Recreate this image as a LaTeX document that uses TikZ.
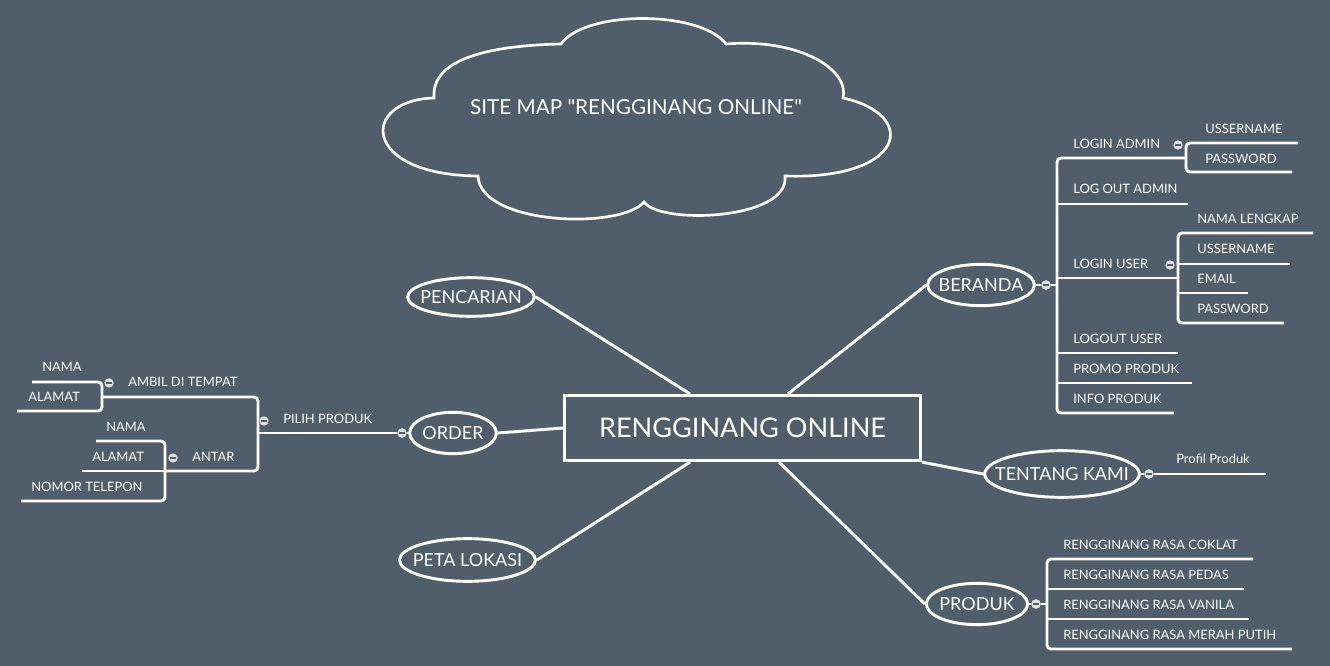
\documentclass[tikz,border=0pt]{standalone}
\usepackage{fontspec}
\setmainfont{Lato}
\newfontfamily\plainlato{Lato}
\usetikzlibrary{shapes.geometric,calc}
\definecolor{bgc}{RGB}{80,94,107}
\definecolor{mkc}{RGB}{222,224,226}
\newcommand{\ovtext}[1]{\makebox[0pt]{#1}}
\begin{document}
\begin{tikzpicture}[x=0.75pt,y=-0.75pt,
  ln/.style={draw=white,line width=2.2pt},
  br/.style={ln,rounded corners=3pt},
  oval/.style={ellipse,draw=white,line width=2.2pt,inner sep=0pt,text=white,font=\fontsize{13.5}{16}\selectfont},
  lbl/.style={anchor=west,inner sep=0pt,text=white,font=\fontsize{9.7}{11}\selectfont},
  mk/.style={circle,fill=mkc,inner sep=0pt,minimum size=7pt,
    path picture={\draw[bgc,line width=0.9pt] ($(path picture bounding box.center)+(-2.2pt,0)$) -- ++(4.4pt,0);}},
]
\fill[bgc] (0,0) rectangle (1330,666);
\useasboundingbox (0,0) rectangle (1330,666);

% cloud
\draw[draw=white,line width=2pt] (561,44) .. controls (585,10) and (700,10) .. (726,44)
  .. controls (800,38) and (850,70) .. (843,98)
  .. controls (920,115) and (905,180) .. (785,176)
  .. controls (790,220) and (660,225) .. (644,202)
  .. controls (620,230) and (480,225) .. (478,176)
  .. controls (360,175) and (360,100) .. (434,98)
  .. controls (430,50) and (520,45) .. (561,44) -- cycle;
\node[text=white,inner sep=0pt,font=\plainlato\fontsize{15.5}{18}\selectfont] (title) at (636,107) {SITE MAP "RENGGINANG ONLINE"};

% centre
\node[draw=white,line width=2.2pt,minimum width=267pt,minimum height=49pt,inner sep=0pt,text=white,font=\fontsize{20.3}{24}\selectfont] (c) at (742.5,428) {RENGGINANG ONLINE};

% main ovals
\node[oval,minimum width=95pt,minimum height=29pt] (pen) at (471,297) {\ovtext{PENCARIAN}};
\node[oval,minimum width=65pt,minimum height=31pt] (ord) at (453,433) {\ovtext{ORDER}};
\node[oval,minimum width=102pt,minimum height=32pt] (peta) at (467.5,560) {\ovtext{PETA LOKASI}};
\node[oval,minimum width=80pt,minimum height=31pt] (ber) at (981,285) {\ovtext{BERANDA}};
\node[oval,minimum width=116pt,minimum height=35pt] (ten) at (1062,474) {\ovtext{TENTANG KAMI}};
\node[oval,minimum width=76pt,minimum height=31pt] (pro) at (977,604) {\ovtext{PRODUK}};

\draw[ln] ($(c.north)+(-52.5,0)$) -- (pen.east);
\draw[ln] ($(c.north)+(45.5,0)$) -- (ber.west);
\draw[ln] (c.south east) -- (ten.west);
\draw[ln] ($(c.south)+(36.5,0)$) -- (pro.west);
\draw[ln] ($(c.south)+(-52.5,0)$) -- (peta.east);
\draw[ln] (c.west) -- (ord.east);

% ---------- BERANDA branch
\coordinate (bT) at (1057,158);
\coordinate (bB) at (1057,413);
\coordinate (bJ) at (1057,285);
\coordinate (laE) at (1186,158);
\coordinate (uaS) at (1186,143); \coordinate (uaE) at (1298,143);
\coordinate (paS) at (1186,172); \coordinate (paE) at (1292,172);
\coordinate (loaS) at (1057,204); \coordinate (loaE) at (1188,204);
\coordinate (luS) at (1057,278); \coordinate (luE) at (1178,278);
\coordinate (nlS) at (1178,233); \coordinate (nlE) at (1313,233);
\coordinate (usS) at (1178,264); \coordinate (usE) at (1290,264);
\coordinate (emS) at (1178,293); \coordinate (emE) at (1248,293);
\coordinate (pwS) at (1178,323); \coordinate (pwE) at (1284,323);
\coordinate (louS) at (1057,353); \coordinate (louE) at (1178,353);
\coordinate (ppS) at (1057,383); \coordinate (ppE) at (1192,383);
\coordinate (ipE) at (1174,413);

\node[mk] (mber) at (1046,285) {};
\draw[ln] (ber.east) -- (mber);
\draw[ln] (mber) -- (bJ);
\draw[br] (laE) -- (bT) -- (bB) -- (ipE);
\draw[ln] (loaS) -- (loaE);
\draw[ln] (luS) -- (luE);
\draw[ln] (louS) -- (louE);
\draw[ln] (ppS) -- (ppE);
\draw[br] (uaE) -- (uaS) -- (paS) -- (paE);
\draw[br] (nlE) -- (nlS) -- (pwS) -- (pwE);
\draw[ln] (usS) -- (usE);
\draw[ln] (emS) -- (emE);
\node[mk] at (mber) {};
\node[mk] (mla) at (1178,145) {};
\node[mk] (mlu) at (1170,265) {};

\node[lbl] (t1) at (1073,144) {LOGIN ADMIN};
\node[lbl] (t2) at (1073,189) {LOG OUT ADMIN};
\node[lbl] (t3) at (1073,264) {LOGIN USER};
\node[lbl] (t4) at (1073,339) {LOGOUT USER};
\node[lbl] (t5) at (1073,369) {PROMO PRODUK};
\node[lbl] (t6) at (1073,399) {INFO PRODUK};
\node[lbl] (t7) at (1205,129) {USSERNAME};
\node[lbl] (t8) at (1205,159) {PASSWORD};
\node[lbl] (t9) at (1197,219) {NAMA LENGKAP};
\node[lbl] (t10) at (1197,249) {USSERNAME};
\node[lbl] (t11) at (1197,279) {EMAIL};
\node[lbl] (t12) at (1197,309) {PASSWORD};

% ---------- TENTANG KAMI branch
\node[mk] (mten) at (1149,474) {};
\coordinate (pfE) at (1266,474);
\draw[ln] (ten.east) -- (mten);
\draw[ln] (mten) -- (pfE);
\node[mk] at (mten) {};
\node[lbl] (t13) at (1176,459) {Profil Produk};

% ---------- PRODUK branch
\coordinate (rT) at (1047,559); \coordinate (rcE) at (1253,559);
\coordinate (rB) at (1047,649); \coordinate (rmE) at (1292,649);
\coordinate (rJ) at (1047,604);
\coordinate (rpS) at (1047,589); \coordinate (rpE) at (1244,589);
\coordinate (rvS) at (1047,619); \coordinate (rvE) at (1249,619);
\node[mk] (mpro) at (1036,604) {};
\draw[ln] (pro.east) -- (mpro);
\draw[ln] (mpro) -- (rJ);
\draw[br] (rcE) -- (rT) -- (rB) -- (rmE);
\draw[ln] (rpS) -- (rpE);
\draw[ln] (rvS) -- (rvE);
\node[mk] at (mpro) {};
\node[lbl] (t14) at (1063,545) {RENGGINANG RASA COKLAT};
\node[lbl] (t15) at (1063,575) {RENGGINANG RASA PEDAS};
\node[lbl] (t16) at (1063,605) {RENGGINANG RASA VANILA};
\node[lbl] (t17) at (1063,635) {RENGGINANG RASA MERAH PUTIH};

% ---------- ORDER branch
\coordinate (oJ) at (258,433);
\coordinate (oT) at (258,397);
\coordinate (oB) at (258,471);
\coordinate (atJ) at (102,397);
\coordinate (anJ) at (165,471);
\coordinate (n1E) at (32,382); \coordinate (n1B) at (102,382);
\coordinate (a1B) at (102,411); \coordinate (a1E) at (17,411);
\coordinate (n2E) at (96,441); \coordinate (n2B) at (165,441);
\coordinate (t2B) at (165,501); \coordinate (t2E) at (21,501);
\coordinate (a2E) at (82,471);
\node[mk] (mord) at (402,433) {};
\draw[ln] (ord.west) -- (mord);
\draw[ln] (mord) -- (oJ);
\draw[br] (atJ) -- (oT) -- (oB) -- (anJ);
\draw[br] (n1E) -- (n1B) -- (a1B) -- (a1E);
\draw[br] (n2E) -- (n2B) -- (t2B) -- (t2E);
\draw[ln] (anJ) -- (a2E);
\node[mk] at (mord) {};
\node[mk] (mpp) at (264,421) {};
\node[mk] (mat) at (109,383) {};
\node[mk] (man) at (173,458) {};

\node[lbl] (u1) at (283,419) {PILIH PRODUK};
\node[lbl] (u2) at (128,382) {AMBIL DI TEMPAT};
\node[lbl] (u3) at (192,457) {ANTAR};
\node[lbl] (u4) at (42,367) {NAMA};
\node[lbl] (u5) at (28,397) {ALAMAT};
\node[lbl] (u6) at (106,427) {NAMA};
\node[lbl] (u7) at (92,457) {ALAMAT};
\node[lbl] (u8) at (31,487) {NOMOR TELEPON};
\end{tikzpicture}
\end{document}
